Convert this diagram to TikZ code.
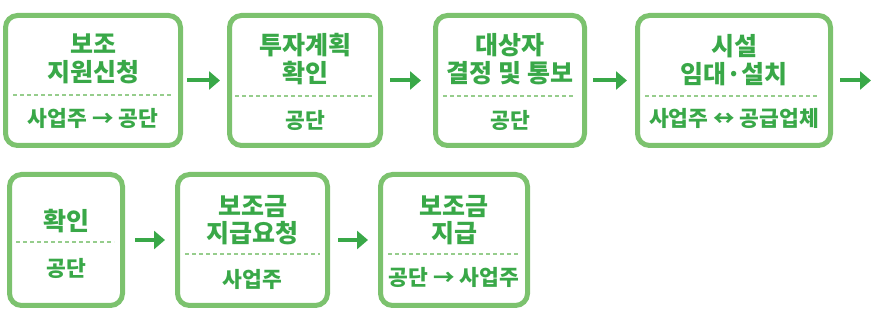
\documentclass[tikz,border=0pt]{standalone}
\usepackage{fontspec}
\setmainfont{Noto Sans CJK KR}
\usetikzlibrary{arrows.meta}
\definecolor{boxgreen}{RGB}{124,194,110}
\definecolor{txtgreen}{RGB}{57,168,72}
\definecolor{sepgreen}{RGB}{150,205,140}

\begin{document}
\begin{tikzpicture}[x=1pt,y=-1pt,>={Triangle[length=11pt,width=18pt]},
  box/.style={draw=boxgreen,line width=5pt,rounded corners=12pt},
  ttl/.style={text=txtgreen,font=\fontsize{25}{27.5}\selectfont\bfseries,align=center,inner sep=0pt},
  sub/.style={text=txtgreen,font=\fontsize{21.5}{24}\selectfont\bfseries,inner sep=0pt},
  sep/.style={draw=sepgreen,line width=1.2pt,dash pattern=on 4pt off 3pt},
  flow/.style={->,draw=txtgreen,line width=4pt}]
\useasboundingbox (0,0) rectangle (878,312);
% first row
\node[box,minimum width=175pt,minimum height=130pt] (b1) at (93,80.5) {};
\node[ttl] (t1) at (93,59) {보조\\지원신청};
\draw[sep] (13,95) -- (173,95);
\node[sub] (s1) at (93,118) {사업주 → 공단};
\node[box,minimum width=151pt,minimum height=130pt] (b2) at (305,80.5) {};
\node[ttl] (t2) at (305,59) {투자계획\\확인};
\draw[sep] (235,96) -- (373,96);
\node[sub] (s2) at (305,120) {공단};
\node[box,minimum width=149pt,minimum height=130pt] (b3) at (510,80.5) {};
\node[ttl] (t3) at (510,59) {대상자\\결정 및 통보};
\draw[sep] (443,96) -- (575,96);
\node[sub] (s3) at (510,120) {공단};
\node[box,minimum width=193pt,minimum height=130pt] (b4) at (734,80.5) {};
\node[ttl] (t4) at (734,60) {시설\\임대·설치};
\draw[sep] (645,96) -- (818,96);
\node[sub] (s4) at (734,118) {사업주 ↔ 공급업체};
\coordinate (out) at (871,80.5);
% second row
\node[box,minimum width=113pt,minimum height=131pt] (b5) at (66,240) {};
\node[ttl] (t5) at (66,221) {확인};
\draw[sep] (16,242) -- (114,242);
\node[sub] (s5) at (66,268) {공단};
\node[box,minimum width=150pt,minimum height=131pt] (b6) at (252.5,240) {};
\node[ttl] (t6) at (252.5,220) {보조금\\지급요청};
\draw[sep] (185,254) -- (320,254);
\node[sub] (s6) at (252.5,279) {사업주};
\node[box,minimum width=147pt,minimum height=131pt] (b7) at (454,240) {};
\node[ttl] (t7) at (454,220) {보조금\\지급};
\draw[sep] (388,254) -- (518,254);
\node[sub] (s7) at (454,277) {공단 → 사업주};
% arrows
\draw[flow,shorten <=4pt,shorten >=7pt] (b1) -- (b2);
\draw[flow,shorten <=7pt,shorten >=12pt] (b2) -- (b3);
\draw[flow,shorten <=6pt,shorten >=8pt] (b3) -- (b4);
\draw[flow,shorten <=7pt] (b4) -- (out);
\draw[flow,shorten <=10pt,shorten >=10pt] (b5) -- (b6);
\draw[flow,shorten <=8pt,shorten >=10pt] (b6) -- (b7);
\end{tikzpicture}
\end{document}
